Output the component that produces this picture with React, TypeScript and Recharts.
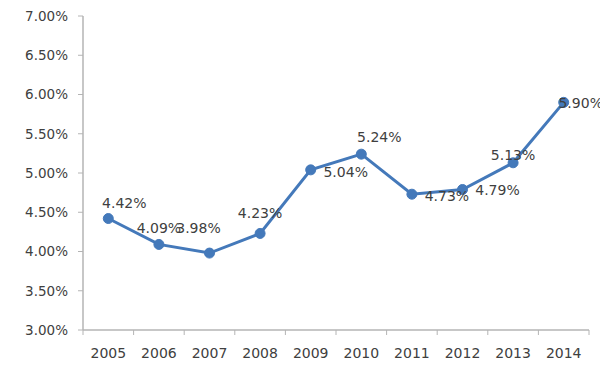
import { LabelList, Line, LineChart, XAxis, YAxis } from "recharts";

const years = ["2005", "2006", "2007", "2008", "2009", "2010", "2011", "2012", "2013", "2014"];
const rates = [4.42, 4.09, 3.98, 4.23, 5.04, 5.24, 4.73, 4.79, 5.13, 5.9];
const yTicks = [3, 3.5, 4, 4.5, 5, 5.5, 6, 6.5, 7];

// where each data label sits relative to its point (Excel placed them by hand)
const labelOffsets: [number, number][] = [
  [16, -16],
  [0, -16],
  [-11, -25],
  [0, -20],
  [35, 2],
  [18, -17],
  [35, 2],
  [35, 1],
  [0, -8],
  [17, 1],
];

const W = 600;
const H = 374;
const PLOT_LEFT = 83;
const PLOT_RIGHT = 589;
const PLOT_TOP = 16;
const PLOT_BOTTOM = 330;
const BAND = (PLOT_RIGHT - PLOT_LEFT) / years.length;

const FONT = "'DejaVu Sans', Verdana, sans-serif";
const TEXT = "#404040";
const AXIS = "#b4b4b4";
const BLUE = "#4479ba";

const data = years.map((year, i) => ({ year, rate: rates[i] }));

function YearTick(props: any) {
  const { x, payload, index } = props;
  const right = x + BAND / 2;
  return (
    <g>
      {index === 0 && (
        <line x1={x - BAND / 2} x2={x - BAND / 2} y1={PLOT_BOTTOM} y2={PLOT_BOTTOM + 5} stroke={AXIS} />
      )}
      <line x1={right} x2={right} y1={PLOT_BOTTOM} y2={PLOT_BOTTOM + 5} stroke={AXIS} />
      <text
        x={x}
        y={PLOT_BOTTOM + 23}
        textAnchor="middle"
        dominantBaseline="central"
        fontFamily={FONT}
        fontSize={14}
        fill={TEXT}
      >
        {payload.value}
      </text>
    </g>
  );
}

function RateLabel(props: any) {
  const { x, y, value, index } = props;
  const [dx, dy] = labelOffsets[index] ?? [0, -16];
  return (
    <text
      x={x + dx}
      y={y + dy}
      textAnchor="middle"
      dominantBaseline="central"
      fontFamily={FONT}
      fontSize={14}
      fill={TEXT}
    >
      {`${Number(value).toFixed(2)}%`}
    </text>
  );
}

export default function App() {
  return (
    <div style={{ position: "absolute", left: 0, top: 0, width: W, height: H, background: "#fff" }}>
      <LineChart
        width={W}
        height={H}
        data={data}
        margin={{ top: PLOT_TOP, right: W - PLOT_RIGHT, left: 0, bottom: 0 }}
      >
        <XAxis
          dataKey="year"
          height={H - PLOT_BOTTOM}
          padding={{ left: BAND / 2, right: BAND / 2 }}
          axisLine={{ stroke: AXIS, strokeWidth: 1.5 }}
          tickLine={false}
          tick={<YearTick />}
          interval={0}
        />
        <YAxis
          width={PLOT_LEFT}
          domain={[3, 7]}
          ticks={yTicks}
          interval={0}
          axisLine={{ stroke: AXIS, strokeWidth: 1.5 }}
          tickLine={{ stroke: AXIS }}
          tickSize={5}
          tickMargin={10}
          tick={{ fontFamily: FONT, fontSize: 13.5, fill: TEXT }}
          tickFormatter={(v: number) => `${v.toFixed(2)}%`}
        />
        <Line
          type="linear"
          dataKey="rate"
          stroke={BLUE}
          strokeWidth={3}
          dot={{ r: 5, fill: BLUE, stroke: BLUE, strokeWidth: 1 }}
          activeDot={false}
          isAnimationActive={false}
        >
          <LabelList dataKey="rate" content={<RateLabel />} />
        </Line>
      </LineChart>
    </div>
  );
}
